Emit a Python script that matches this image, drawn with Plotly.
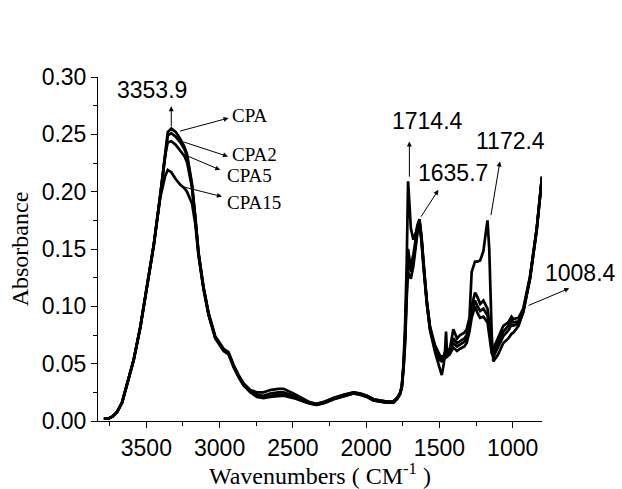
import plotly.graph_objects as go

# Wavenumber grid (cm^-1), descending
wavenumbers = [3790, 3760, 3730, 3700, 3666, 3632, 3587, 3541, 3495, 3450, 3405, 3371, 3354, 3330,
               3300, 3268, 3240, 3223, 3189, 3166, 3144, 3110, 3075, 3030, 2973, 2939, 2905, 2870,
               2837, 2791, 2745, 2700, 2655, 2600, 2564, 2496, 2428, 2380, 2336, 2280, 2223, 2150,
               2087, 2040, 1995, 1950, 1900, 1860, 1814, 1790, 1770, 1757, 1745, 1734, 1723, 1714,
               1705, 1695, 1678, 1660, 1648, 1636, 1622, 1610, 1586, 1564, 1530, 1496, 1484, 1470,
               1462, 1455, 1448, 1430, 1405, 1380, 1359, 1330, 1314, 1295, 1280, 1257, 1240, 1222,
               1200, 1185, 1172, 1160, 1150, 1143, 1132, 1100, 1064, 1030, 1008, 996, 960, 928,
               882, 836, 800]

cpa = [0.002, 0.002, 0.004, 0.008, 0.016, 0.031, 0.053, 0.082, 0.117, 0.153, 0.197, 0.236, 0.252, 0.255,
       0.252, 0.246, 0.239, 0.233, 0.207, 0.178, 0.147, 0.117, 0.094, 0.074, 0.063, 0.060, 0.049, 0.040,
       0.033, 0.027, 0.025, 0.025, 0.027, 0.028, 0.028, 0.024, 0.019, 0.016, 0.015, 0.017, 0.020, 0.023,
       0.025, 0.024, 0.022, 0.019, 0.018, 0.017, 0.017, 0.020, 0.024, 0.030, 0.050, 0.085, 0.140, 0.209,
       0.190, 0.168, 0.158, 0.165, 0.172, 0.176, 0.160, 0.138, 0.103, 0.079, 0.060, 0.045, 0.040, 0.050,
       0.060, 0.078, 0.058, 0.062, 0.080, 0.072, 0.075, 0.077, 0.080, 0.090, 0.130, 0.139, 0.139, 0.140,
       0.148, 0.163, 0.175, 0.150, 0.110, 0.075, 0.052, 0.058, 0.068, 0.072, 0.076, 0.077, 0.083, 0.095,
       0.124, 0.167, 0.213]

cpa2 = [0.002, 0.002, 0.004, 0.008, 0.016, 0.031, 0.053, 0.082, 0.117, 0.153, 0.197, 0.234, 0.249, 0.251,
        0.248, 0.243, 0.237, 0.231, 0.206, 0.177, 0.146, 0.116, 0.093, 0.073, 0.062, 0.059, 0.048, 0.039,
        0.032, 0.026, 0.023, 0.022, 0.024, 0.025, 0.025, 0.022, 0.018, 0.016, 0.015, 0.017, 0.020, 0.023,
        0.025, 0.024, 0.022, 0.019, 0.018, 0.017, 0.017, 0.020, 0.024, 0.030, 0.048, 0.075, 0.120, 0.150,
        0.142, 0.136, 0.145, 0.160, 0.170, 0.175, 0.160, 0.140, 0.105, 0.082, 0.066, 0.057, 0.056, 0.057,
        0.060, 0.066, 0.060, 0.063, 0.072, 0.068, 0.070, 0.072, 0.075, 0.085, 0.100, 0.112, 0.108, 0.102,
        0.105, 0.101, 0.098, 0.085, 0.072, 0.066, 0.063, 0.072, 0.083, 0.086, 0.091, 0.089, 0.090, 0.098,
        0.126, 0.168, 0.213]

cpa5 = [0.002, 0.002, 0.004, 0.008, 0.016, 0.031, 0.053, 0.082, 0.117, 0.153, 0.197, 0.232, 0.243, 0.244,
        0.241, 0.236, 0.231, 0.226, 0.204, 0.176, 0.146, 0.116, 0.093, 0.073, 0.062, 0.059, 0.048, 0.039,
        0.032, 0.026, 0.022, 0.021, 0.022, 0.023, 0.023, 0.021, 0.017, 0.015, 0.014, 0.016, 0.019, 0.022,
        0.024, 0.023, 0.021, 0.018, 0.017, 0.016, 0.016, 0.019, 0.023, 0.029, 0.047, 0.072, 0.115, 0.145,
        0.138, 0.130, 0.140, 0.157, 0.168, 0.174, 0.158, 0.138, 0.104, 0.081, 0.064, 0.055, 0.054, 0.055,
        0.058, 0.063, 0.058, 0.061, 0.068, 0.065, 0.067, 0.069, 0.072, 0.082, 0.095, 0.105, 0.100, 0.096,
        0.098, 0.095, 0.092, 0.080, 0.068, 0.062, 0.059, 0.068, 0.078, 0.083, 0.088, 0.086, 0.087, 0.096,
        0.125, 0.167, 0.213]

cpa15 = [0.002, 0.002, 0.004, 0.008, 0.016, 0.031, 0.053, 0.082, 0.117, 0.153, 0.195, 0.214, 0.219, 0.217,
         0.211, 0.206, 0.203, 0.200, 0.190, 0.172, 0.144, 0.115, 0.092, 0.072, 0.061, 0.058, 0.047, 0.038,
         0.031, 0.025, 0.021, 0.020, 0.021, 0.022, 0.022, 0.020, 0.017, 0.015, 0.014, 0.016, 0.019, 0.022,
         0.024, 0.023, 0.021, 0.018, 0.017, 0.016, 0.016, 0.019, 0.023, 0.029, 0.045, 0.068, 0.108, 0.130,
         0.127, 0.124, 0.135, 0.153, 0.166, 0.172, 0.156, 0.136, 0.102, 0.080, 0.063, 0.053, 0.052, 0.053,
         0.056, 0.060, 0.056, 0.058, 0.064, 0.061, 0.063, 0.065, 0.068, 0.078, 0.090, 0.100, 0.094, 0.090,
         0.091, 0.088, 0.086, 0.075, 0.064, 0.059, 0.056, 0.065, 0.074, 0.079, 0.084, 0.083, 0.085, 0.095,
         0.124, 0.167, 0.213]

series_names = ["CPA", "CPA2", "CPA5", "CPA15"]
series_values = [cpa, cpa2, cpa5, cpa15]

# Series label annotations: (name, arrow tail x, tail y, arrow head x, head y, label x, label y)
series_labels = [
    ("CPA", 3280, 0.2525, 2939, 0.2642, 2927, 0.2662),
    ("CPA2", 3257, 0.2438, 2943, 0.2307, 2927, 0.2322),
    ("CPA5", 3223, 0.2313, 2996, 0.2190, 2962, 0.2142),
    ("CPA15", 3257, 0.2045, 2984, 0.1957, 2962, 0.1907),
]

# Peak annotations: (text, tail x, tail y, head x, head y, label x, label y)
peak_labels = [
    ("3353.9", 3330, 0.2555, 3330, 0.2744, 3459, 0.2890),
    ("1714.4", 1705, 0.2118, 1705, 0.2438, 1584, 0.2614),
    ("1635.7", 1632, 0.1768, 1507, 0.2016, 1407, 0.2164),
    ("1172.4", 1150, 0.1782, 1087, 0.2263, 1018, 0.2444),
]
# Label lying right of the plotting area (paper coordinates for its text)
side_label = ("1008.4", 902, 0.1002, 614, 0.1157, 1.087, 0.430)

fig = go.Figure()
for name, vals in zip(series_names, series_values):
    fig.add_trace(go.Scatter(x=wavenumbers, y=vals, mode="lines", name=name,
                             line=dict(color="black", width=2.7), showlegend=False))

annotations = []
serif = "Liberation Serif"
sans = "Liberation Sans"


def arrow(tx, ty, hx, hy):
    return dict(x=hx, y=hy, ax=tx, ay=ty, xref="x", yref="y", axref="x", ayref="y",
                text="", showarrow=True, arrowhead=2, arrowsize=1, arrowwidth=1,
                arrowcolor="black")


for name, tx, ty, hx, hy, lx, ly in series_labels:
    annotations.append(arrow(tx, ty, hx, hy))
    annotations.append(dict(x=lx, y=ly, xref="x", yref="y", text=name, showarrow=False,
                            xanchor="left", yanchor="middle",
                            font=dict(family=serif, size=19, color="black")))
for txt, tx, ty, hx, hy, lx, ly in peak_labels:
    annotations.append(arrow(tx, ty, hx, hy))
    annotations.append(dict(x=lx, y=ly, xref="x", yref="y", text=txt, showarrow=False,
                            xanchor="center", yanchor="middle",
                            font=dict(family=sans, size=23, color="black")))
txt, tx, ty, hx, hy, lx, ly = side_label
annotations.append(arrow(tx, ty, hx, hy))
annotations.append(dict(x=lx, y=ly, xref="paper", yref="paper", text=txt, showarrow=False,
                        xanchor="center", yanchor="middle",
                        font=dict(family=sans, size=23, color="black")))

fig.update_layout(
    width=622, height=489,
    margin=dict(l=98, r=80, t=77, b=68),
    paper_bgcolor="white", plot_bgcolor="white",
    annotations=annotations,
    xaxis=dict(
        range=[3830, 800], tickmode="linear", tick0=0, dtick=500,
        ticks="outside", ticklen=6, tickwidth=1, tickcolor="black",
        minor=dict(tick0=0, dtick=250, ticks="outside", ticklen=4, tickcolor="black"),
        showline=True, linecolor="black", linewidth=1, showgrid=False, zeroline=False,
        tickfont=dict(family=sans, size=23, color="black"),
        title=dict(text="Wavenumbers ( CM<sup>-1</sup> )", standoff=4,
                   font=dict(family=serif, size=24, color="black")),
        automargin=False,
    ),
    yaxis=dict(
        range=[0, 0.30], tickmode="linear", tick0=0, dtick=0.05, tickformat=".2f",
        ticks="outside", ticklen=6, tickwidth=1, tickcolor="black",
        minor=dict(tick0=0, dtick=0.025, ticks="outside", ticklen=4, tickcolor="black"),
        showline=True, linecolor="black", linewidth=1, showgrid=False, zeroline=False,
        tickfont=dict(family=sans, size=23, color="black"),
        title=dict(text="Absorbance", standoff=6,
                   font=dict(family=serif, size=24, color="black")),
        automargin=False,
    ),
)

fig.write_html("out.html")
